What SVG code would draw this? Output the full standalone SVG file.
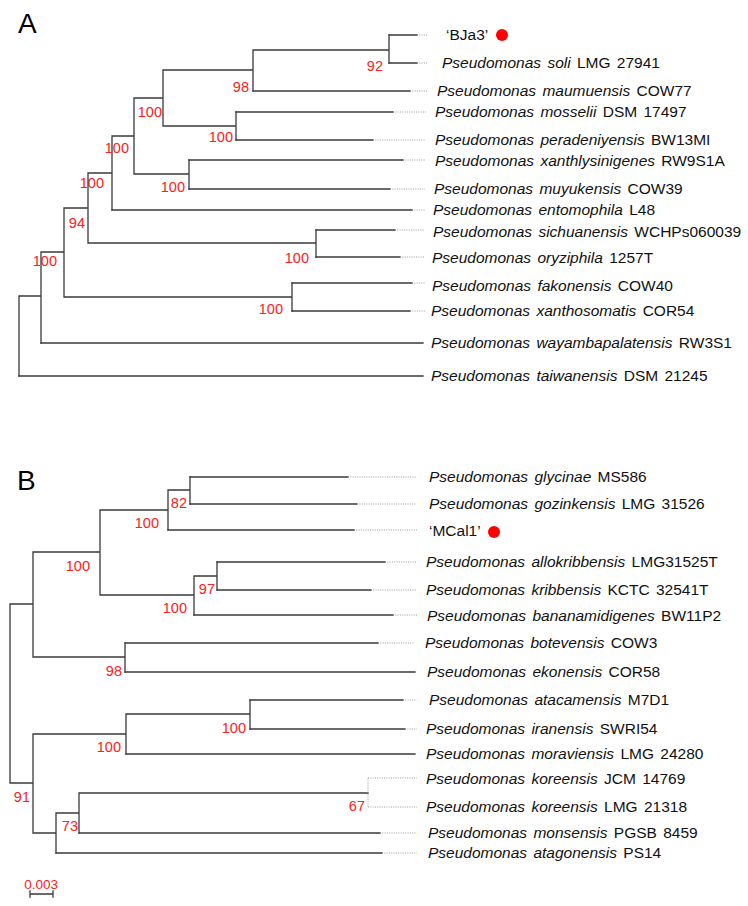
<svg xmlns="http://www.w3.org/2000/svg" width="748" height="906" viewBox="0 0 748 906">
<style>
.br{fill:none;stroke:#3a3a3a;stroke-width:1.3;stroke-linecap:square}
.dt{fill:none;stroke:#9a9a9a;stroke-width:1;stroke-dasharray:1 1.3}
.tip{font-family:"Liberation Sans",Arial,sans-serif;font-size:15.5px;fill:#111;word-spacing:2px}
.tip .i{font-style:italic}
.bs{font-family:"Liberation Sans",Arial,sans-serif;font-size:14.5px;fill:#ff2020;text-anchor:end}
.pl{font-family:"Liberation Sans",Arial,sans-serif;font-size:28px;fill:#000}
.dot{fill:#ff0000}
</style>
<rect width="748" height="906" fill="#fff"/>
<text class="pl" x="18" y="33">A</text>
<text class="pl" x="17" y="490">B</text>

<g id="connectors">
<g id="tree-a-branches">
<path class="br" d="M19,296V376M19,296H41M41,252V343M41,252H64M64,208V297M64,208H88M88,173V243M88,173H112M112,136V210M112,136H134M134,98V174M134,98H163M163,70V126M163,70H253M253,50V91M253,50H389M389,35V63M163,126H236M236,112V140M134,174H189M189,160V189M88,243H316M316,230V257M64,297H292M292,283V311"/>
<path class="br" d="M389,35H417M389,63H417M253,91H410M236,112H393M236,140H373M189,160H403M189,189H390M112,210H412M316,230H395M316,257H400M292,283H412M292,311H410M41,343H423M19,376H423"/>
<path class="dt" d="M417,35H427M417,63H427M410,91H427M393,112H426M373,140H426M403,160H425M390,189H425M412,210H425M395,230H425M400,257H425M412,283H425M410,311H425"/>
</g>
<g id="tree-b-branches">
<path class="br" d="M10,604V783M10,604H33M33,552V657M33,552H100M100,510V595M100,510H168M168,490V530M168,490H190M190,477V504M100,595H194M194,576V615M194,576H217M217,562V590M33,657H125M125,643V672M10,783H33M33,734V833M33,734H126M126,714V754M126,714H250M250,700V729M33,833H56M56,813V853M56,813H79M79,793V833M79,793H368"/>
<path class="br" d="M190,477H348M190,504H357M168,530H354M217,562H385M217,590H371M194,615H393M125,643H378M125,672H415M250,700H403M250,729H405M126,754H415M79,833H380M56,853H382"/>
<path class="dt" d="M348,477H417M357,504H417M354,530H417M385,562H417M371,590H417M393,615H417M378,643H415M403,700H417M405,729H417M368,778V807M368,778H417M368,807H417M380,833H417M382,853H417"/>
</g>
<g id="scale-bar">
<path class="br" d="M30,894H53M30,891V897M53,891V897" stroke-width="1.2"/>
</g>
</g>

<g id="tree-a-tips">
<g id="a-bja3"><text class="tip" x="446" y="40">‘BJa3’</text><circle class="dot" cx="502" cy="35" r="6"/></g>
<g id="a-soli"><text class="tip" x="442" y="68"><tspan class="i">Pseudomonas soli</tspan> LMG 27941</text></g>
<g id="a-maumuensis"><text class="tip" x="437" y="96"><tspan class="i">Pseudomonas maumuensis</tspan> COW77</text></g>
<g id="a-mosselii"><text class="tip" x="435" y="117"><tspan class="i">Pseudomonas mosselii</tspan> DSM 17497</text></g>
<g id="a-peradeniyensis"><text class="tip" x="435" y="145"><tspan class="i">Pseudomonas peradeniyensis</tspan> BW13MI</text></g>
<g id="a-xanthlysinigenes"><text class="tip" x="435" y="166"><tspan class="i">Pseudomonas xanthlysinigenes</tspan> RW9S1A</text></g>
<g id="a-muyukensis"><text class="tip" x="434" y="194"><tspan class="i">Pseudomonas muyukensis</tspan> COW39</text></g>
<g id="a-entomophila"><text class="tip" x="433" y="215"><tspan class="i">Pseudomonas entomophila</tspan> L48</text></g>
<g id="a-sichuanensis"><text class="tip" x="433" y="237"><tspan class="i">Pseudomonas sichuanensis</tspan> WCHPs060039</text></g>
<g id="a-oryziphila"><text class="tip" x="432" y="263"><tspan class="i">Pseudomonas oryziphila</tspan> 1257T</text></g>
<g id="a-fakonensis"><text class="tip" x="432" y="291"><tspan class="i">Pseudomonas fakonensis</tspan> COW40</text></g>
<g id="a-xanthosomatis"><text class="tip" x="431" y="316"><tspan class="i">Pseudomonas xanthosomatis</tspan> COR54</text></g>
<g id="a-wayambapalatensis"><text class="tip" x="431" y="348"><tspan class="i">Pseudomonas wayambapalatensis</tspan> RW3S1</text></g>
<g id="a-taiwanensis"><text class="tip" x="431" y="381"><tspan class="i">Pseudomonas taiwanensis</tspan> DSM 21245</text></g>
</g>

<g id="tree-a-support">
<g id="a-n389"><text class="bs" x="383" y="71">92</text></g>
<g id="a-n253"><text class="bs" x="249" y="92">98</text></g>
<g id="a-n163"><text class="bs" x="162" y="117">100</text></g>
<g id="a-n236"><text class="bs" x="233" y="142">100</text></g>
<g id="a-n134"><text class="bs" x="129" y="153">100</text></g>
<g id="a-n189"><text class="bs" x="185" y="192">100</text></g>
<g id="a-n112"><text class="bs" x="104" y="188">100</text></g>
<g id="a-n88"><text class="bs" x="85" y="228">94</text></g>
<g id="a-n316"><text class="bs" x="309" y="263">100</text></g>
<g id="a-n292"><text class="bs" x="283" y="314">100</text></g>
<g id="a-n41"><text class="bs" x="57" y="266">100</text></g>
</g>

<g id="tree-b-tips">
<g id="b-glycinae"><text class="tip" x="429" y="482"><tspan class="i">Pseudomonas glycinae</tspan> MS586</text></g>
<g id="b-gozinkensis"><text class="tip" x="429" y="509"><tspan class="i">Pseudomonas gozinkensis</tspan> LMG 31526</text></g>
<g id="b-mcal1"><text class="tip" x="429" y="536">‘MCal1’</text><circle class="dot" cx="494" cy="532" r="6"/></g>
<g id="b-allokribbensis"><text class="tip" x="426" y="567"><tspan class="i">Pseudomonas allokribbensis</tspan> LMG31525T</text></g>
<g id="b-kribbensis"><text class="tip" x="426" y="595"><tspan class="i">Pseudomonas kribbensis</tspan> KCTC 32541T</text></g>
<g id="b-bananamidigenes"><text class="tip" x="427" y="621"><tspan class="i">Pseudomonas bananamidigenes</tspan> BW11P2</text></g>
<g id="b-botevensis"><text class="tip" x="425" y="648"><tspan class="i">Pseudomonas botevensis</tspan> COW3</text></g>
<g id="b-ekonensis"><text class="tip" x="427" y="677"><tspan class="i">Pseudomonas ekonensis</tspan> COR58</text></g>
<g id="b-atacamensis"><text class="tip" x="429" y="705"><tspan class="i">Pseudomonas atacamensis</tspan> M7D1</text></g>
<g id="b-iranensis"><text class="tip" x="426" y="734"><tspan class="i">Pseudomonas iranensis</tspan> SWRI54</text></g>
<g id="b-moraviensis"><text class="tip" x="426" y="759"><tspan class="i">Pseudomonas moraviensis</tspan> LMG 24280</text></g>
<g id="b-koreensis-jcm"><text class="tip" x="426" y="784"><tspan class="i">Pseudomonas koreensis</tspan> JCM 14769</text></g>
<g id="b-koreensis-lmg"><text class="tip" x="426" y="812"><tspan class="i">Pseudomonas koreensis</tspan> LMG 21318</text></g>
<g id="b-monsensis"><text class="tip" x="428" y="838"><tspan class="i">Pseudomonas monsensis</tspan> PGSB 8459</text></g>
<g id="b-atagonensis"><text class="tip" x="428" y="858"><tspan class="i">Pseudomonas atagonensis</tspan> PS14</text></g>
</g>

<g id="tree-b-support">
<g id="b-n190"><text class="bs" x="187" y="508">82</text></g>
<g id="b-n168"><text class="bs" x="159" y="528">100</text></g>
<g id="b-n100"><text class="bs" x="90" y="571">100</text></g>
<g id="b-n217"><text class="bs" x="215" y="594">97</text></g>
<g id="b-n194"><text class="bs" x="187" y="613">100</text></g>
<g id="b-n125"><text class="bs" x="122" y="676">98</text></g>
<g id="b-n250"><text class="bs" x="246" y="733">100</text></g>
<g id="b-n126"><text class="bs" x="121" y="752">100</text></g>
<g id="b-n33"><text class="bs" x="30" y="802">91</text></g>
<g id="b-n368"><text class="bs" x="365" y="811">67</text></g>
<g id="b-n79"><text class="bs" x="78" y="831">73</text></g>
</g>

<g id="scale-label"><text class="bs" x="58" y="889" style="font-size:13.5px">0.003</text></g>
</svg>
